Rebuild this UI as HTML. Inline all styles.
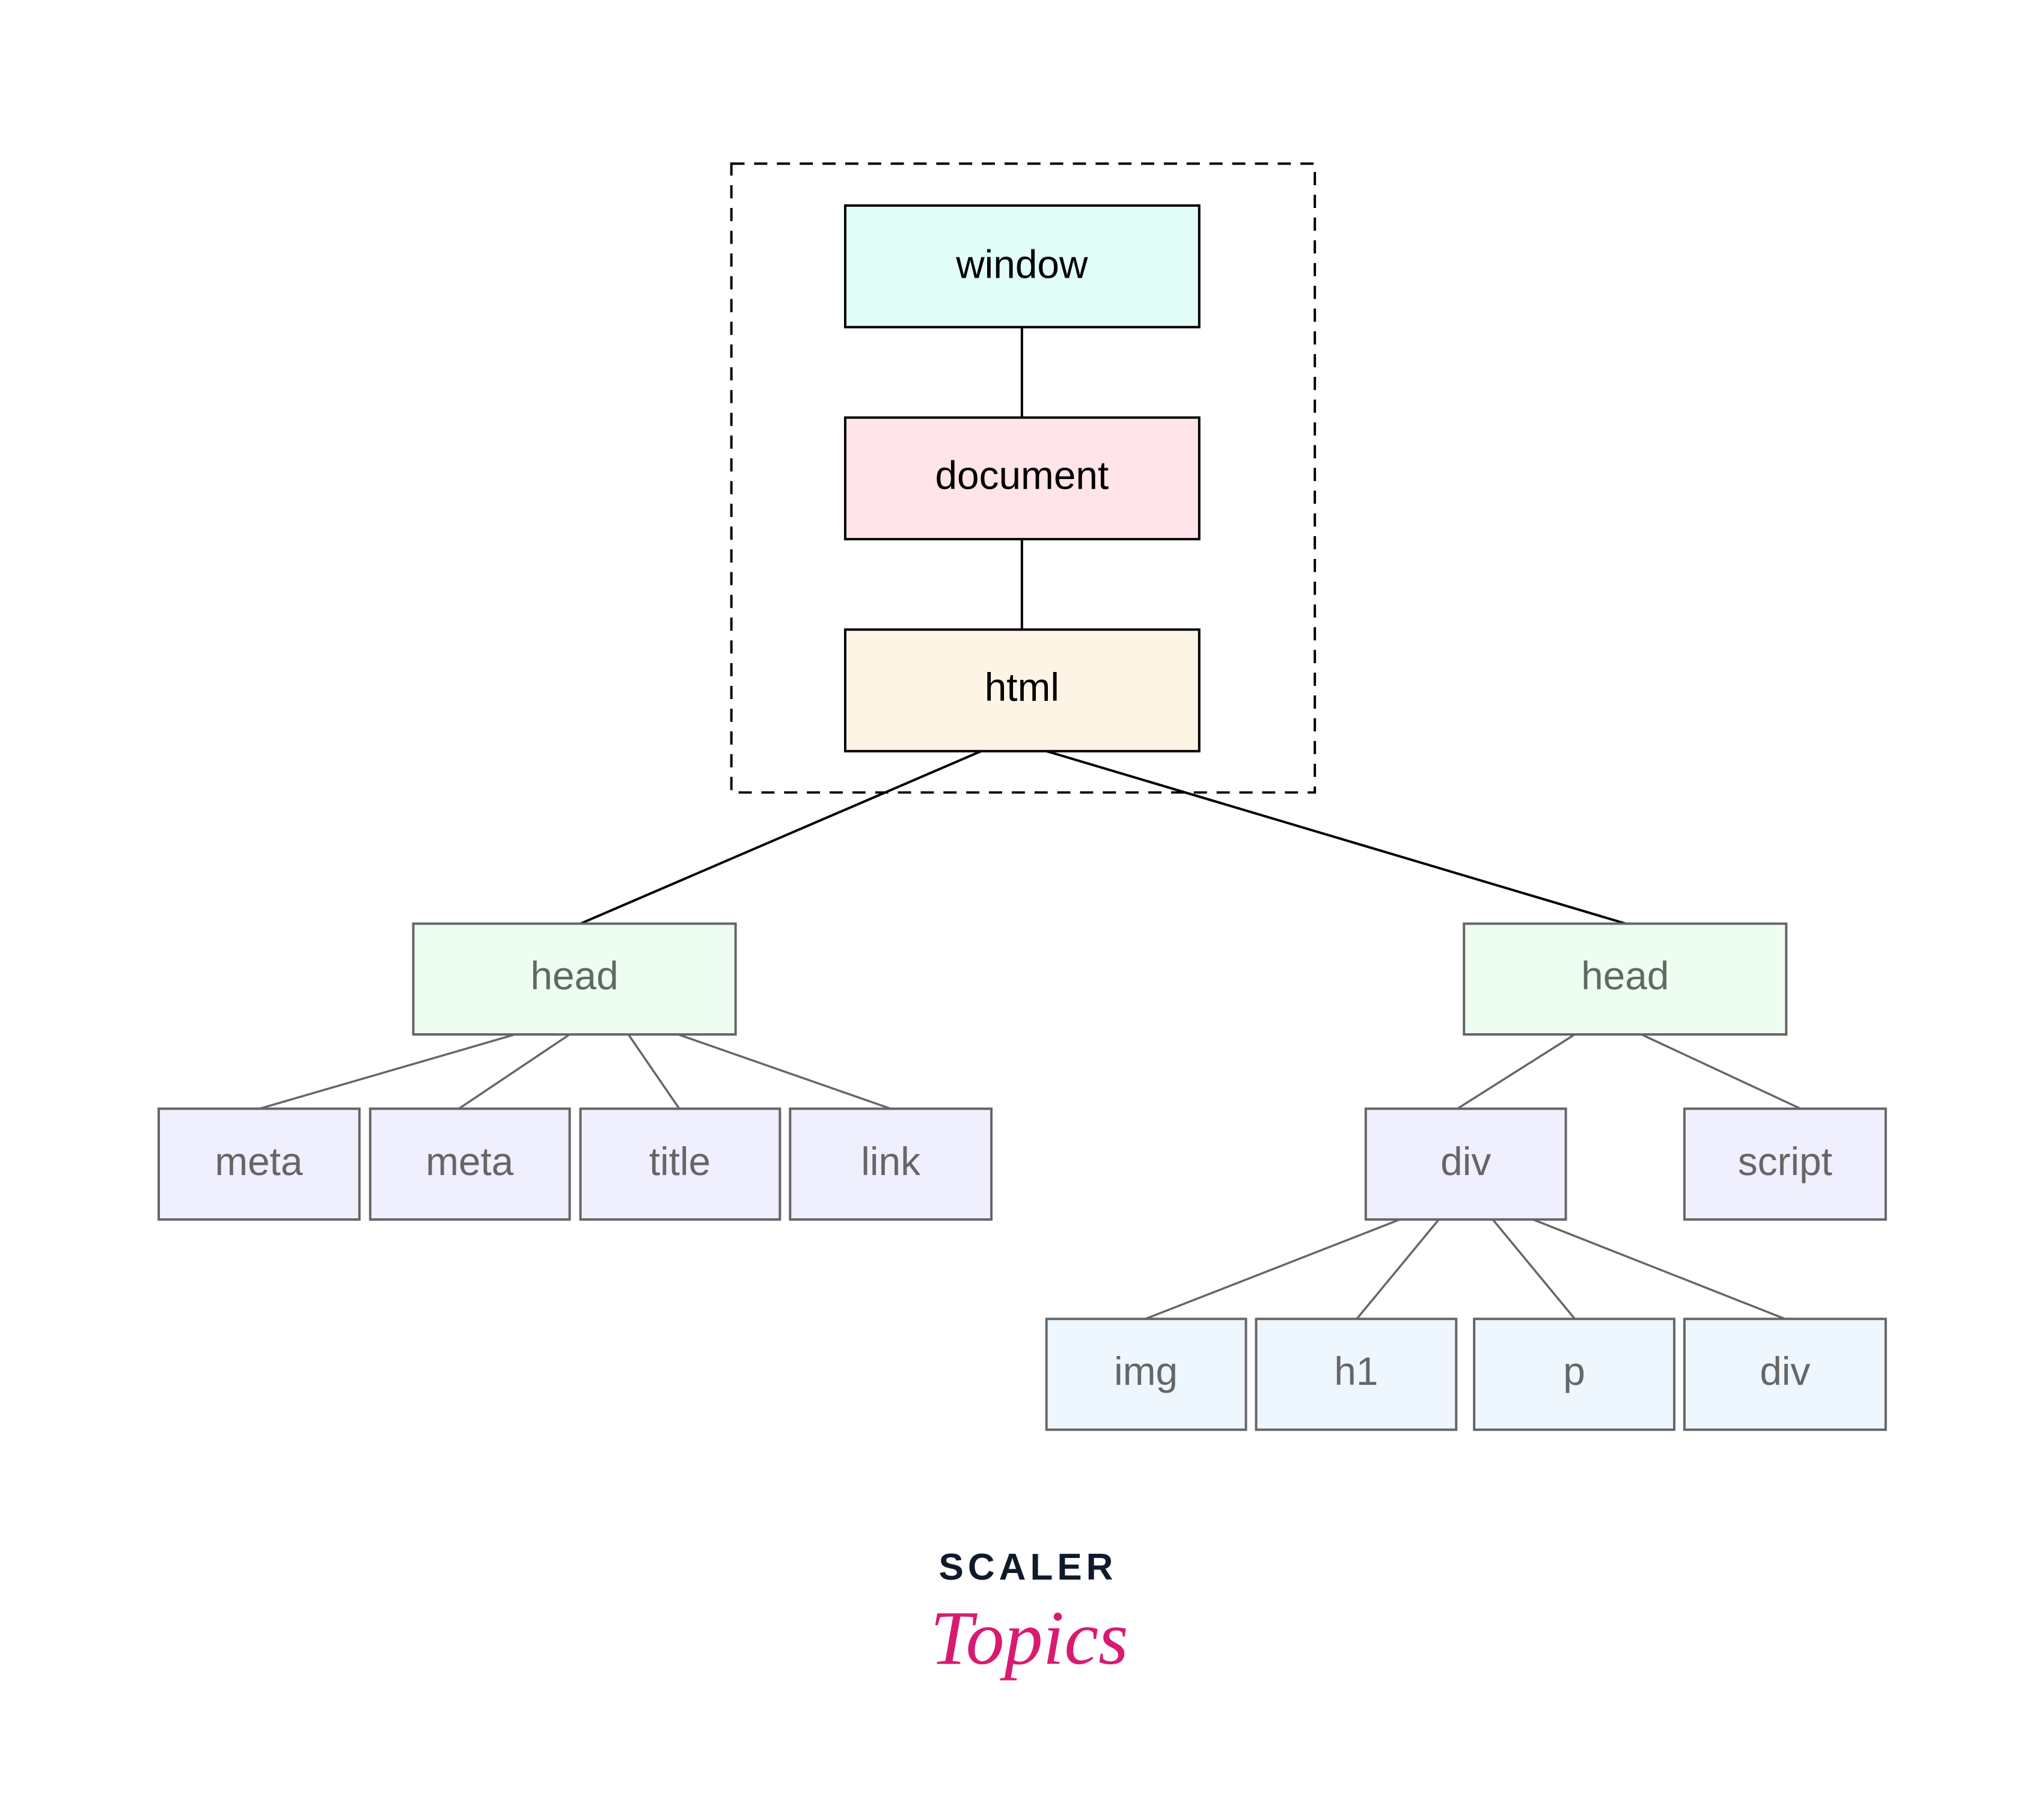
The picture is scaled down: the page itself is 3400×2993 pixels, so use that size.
<!DOCTYPE html>
<html><head><meta charset="utf-8"><style>
html,body{margin:0;padding:0;background:#fff;}
svg{display:block;}
</style></head><body>
<svg width="3400" height="2993" viewBox="0 0 3400 2993" xmlns="http://www.w3.org/2000/svg">
<rect width="3400" height="2993" fill="#fff"/>
<g transform="matrix(0.9964 0 0 0.9964 -1 1.2)">
<rect x="1222" y="272" width="974" height="1050" fill="none" stroke="#000" stroke-width="4" stroke-dasharray="22,16"/>
<g stroke="#000" stroke-width="4">
<line x1="1707" y1="545" x2="1707" y2="696"/>
<line x1="1707" y1="899" x2="1707" y2="1050"/>
<line x1="1639" y1="1253" x2="970" y2="1541"/>
<line x1="1748" y1="1253" x2="2715" y2="1541"/>
</g>
<g stroke="#666" stroke-width="3.5">
<line x1="861" y1="1726" x2="434" y2="1850"/>
<line x1="952" y1="1726" x2="767" y2="1850"/>
<line x1="1050" y1="1726" x2="1135" y2="1850"/>
<line x1="1133" y1="1726" x2="1488" y2="1850"/>
<line x1="2630" y1="1726" x2="2434" y2="1850"/>
<line x1="2741" y1="1726" x2="3007" y2="1850"/>
<line x1="2338" y1="2035" x2="1913" y2="2201"/>
<line x1="2403" y1="2035" x2="2266" y2="2201"/>
<line x1="2493" y1="2035" x2="2630" y2="2201"/>
<line x1="2560" y1="2035" x2="2981" y2="2201"/>
</g>
<g stroke="#000" stroke-width="4">
<rect x="1412" y="342" width="591" height="203" fill="#e0fdf8"/>
<rect x="1412" y="696" width="591" height="203" fill="#ffe4ea"/>
<rect x="1412" y="1050" width="591" height="203" fill="#fdf4e6"/>
</g>
<g font-family="Liberation Sans, sans-serif" font-size="66" text-anchor="middle" fill="#000">
<text x="1707" y="463">window</text>
<text x="1707" y="815">document</text>
<text x="1707" y="1169">html</text>
</g>
<g stroke="#666" stroke-width="4">
<rect x="691" y="1541" width="538" height="185" fill="#edfdf1"/>
<rect x="2445" y="1541" width="538" height="185" fill="#edfdf1"/>
<rect x="266" y="1850" width="335" height="185" fill="#efeffd"/>
<rect x="619" y="1850" width="333" height="185" fill="#efeffd"/>
<rect x="970" y="1850" width="333" height="185" fill="#efeffd"/>
<rect x="1320" y="1850" width="336" height="185" fill="#efeffd"/>
<rect x="2281" y="1850" width="334" height="185" fill="#efeffd"/>
<rect x="2813" y="1850" width="336" height="185" fill="#efeffd"/>
<rect x="1748" y="2201" width="333" height="185" fill="#eef6fe"/>
<rect x="2098" y="2201" width="334" height="185" fill="#eef6fe"/>
<rect x="2462" y="2201" width="334" height="185" fill="#eef6fe"/>
<rect x="2813" y="2201" width="336" height="185" fill="#eef6fe"/>
</g>
<g font-family="Liberation Sans, sans-serif" font-size="66" text-anchor="middle" fill="#666">
<text x="960" y="1651" fill="#5f6b60">head</text>
<text x="2714" y="1651" fill="#5f6b60">head</text>
<text x="433" y="1961">meta</text>
<text x="785" y="1961">meta</text>
<text x="1136" y="1961">title</text>
<text x="1488" y="1961">link</text>
<text x="2448" y="1961">div</text>
<text x="2981" y="1961">script</text>
<text x="1914" y="2311">img</text>
<text x="2265" y="2311">h1</text>
<text x="2629" y="2311">p</text>
<text x="2981" y="2311">div</text>
</g>
</g>
<text x="1710" y="2628" font-family="Liberation Sans, sans-serif" font-weight="bold" font-size="62" letter-spacing="7" text-anchor="middle" fill="#0f1a2c">SCALER</text>
<text x="1712" y="2768" font-family="Liberation Serif, serif" font-style="italic" font-size="128" text-anchor="middle" fill="#d81b71">Topics</text>
</svg>
</body></html>
